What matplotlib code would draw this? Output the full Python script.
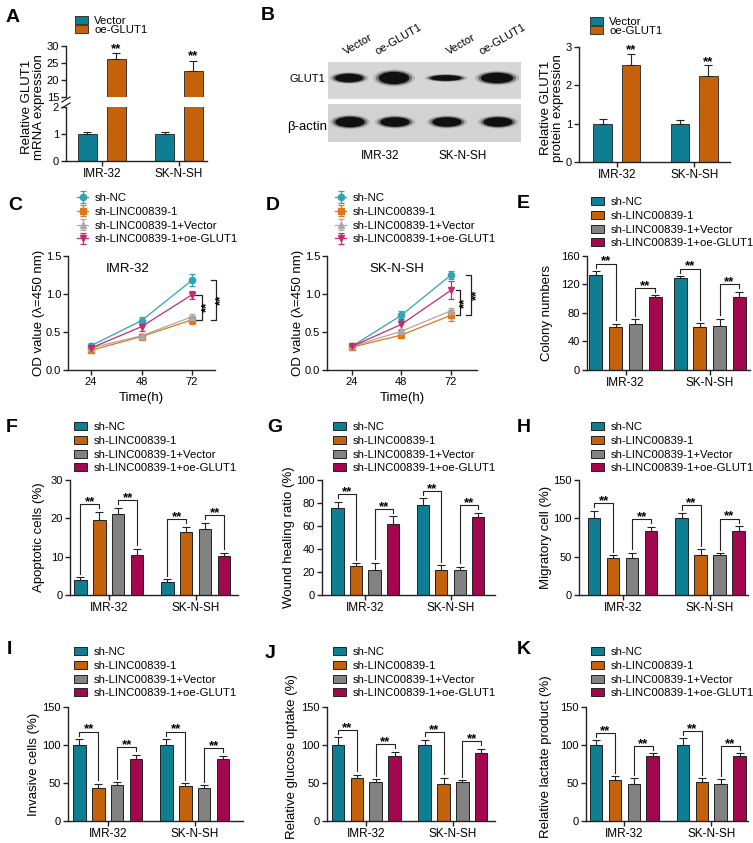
import matplotlib.pyplot as plt
from matplotlib.patches import Ellipse, Rectangle
from matplotlib.lines import Line2D
import numpy as np

plt.rcParams['font.family'] = ['Liberation Sans', 'DejaVu Sans']

W, H = 753, 843

TEAL = '#0f7d92'
ORANGE = '#c4610b'
GRAY = '#828282'
MAGENTA = '#a3084f'
BAR_COLORS = [TEAL, ORANGE, GRAY, MAGENTA]
LINE_COLORS = ['#2ea4b6', '#e0771d', '#a9a9a9', '#c32d6c']
INK = '#222222'

groups = ['IMR-32', 'SK-N-SH']
labels4 = ['sh-NC', 'sh-LINC00839-1', 'sh-LINC00839-1+Vector', 'sh-LINC00839-1+oe-GLUT1']
labels2 = ['Vector', 'oe-GLUT1']

# A: GLUT1 mRNA (IMR-32, SK-N-SH)
a_vector = [1.0, 1.0]
a_vector_err = [0.08, 0.07]
a_oe = [26.3, 22.6]
a_oe_err = [1.5, 3.1]

# B: GLUT1 protein
b_vector = [1.0, 1.0]
b_vector_err = [0.13, 0.10]
b_oe = [2.53, 2.25]
b_oe_err = [0.30, 0.28]

# C / D: CCK-8 OD values at 24, 48, 72 h
times = [24, 48, 72]
c_mean = [[0.32, 0.65, 1.18], [0.26, 0.44, 0.66], [0.29, 0.45, 0.70], [0.29, 0.57, 0.99]]
c_err = [[0.04, 0.05, 0.08], [0.02, 0.03, 0.05], [0.02, 0.03, 0.04], [0.03, 0.06, 0.05]]
d_mean = [[0.31, 0.72, 1.25], [0.30, 0.46, 0.72], [0.31, 0.51, 0.78], [0.31, 0.60, 1.05]]
d_err = [[0.02, 0.06, 0.05], [0.02, 0.04, 0.07], [0.02, 0.03, 0.04], [0.02, 0.07, 0.12]]

# E-K: rows = cell line, columns = groups
e_mean = [[134, 61, 65, 102], [129, 61, 62, 102]]
e_err = [[5, 4, 6, 3], [3, 5, 10, 8]]
f_mean = [[4.0, 19.6, 21.2, 10.5], [3.5, 16.4, 17.3, 10.1]]
f_err = [[0.6, 2.1, 1.6, 1.6], [0.6, 1.4, 1.6, 0.9]]
g_mean = [[76, 25, 22, 62], [78, 21.5, 22, 68]]
g_err = [[5, 2.5, 6, 6.5], [6, 4.5, 2.5, 3.5]]
h_mean = [[100, 48, 48, 83], [100, 52, 52, 84]]
h_err = [[10, 4, 7, 6], [7, 8, 2.5, 6]]
i_mean = [[100, 44, 47, 81], [100, 46, 44, 82]]
i_err = [[8, 5, 4, 6], [8, 4, 3, 4]]
j_mean = [[100, 57, 51, 86], [100, 49, 51, 89]]
j_err = [[10, 4, 4, 5], [7, 8, 3, 6]]
k_mean = [[100, 54, 49, 86], [100, 51, 49, 86]]
k_err = [[6, 5, 7, 3], [9, 5, 6, 3]]

# western blot band look (lanes: Vector, oe-GLUT1, Vector, oe-GLUT1)
glut1_band_h = [9, 13, 6, 11]
glut1_band_w = [30, 32, 33, 34]
actin_band_h = [11, 10, 10, 10]

fig = plt.figure(figsize=(W / 100, H / 100), dpi=100)
fig.patch.set_facecolor('white')


def box(l, t, r, b):
    return [l / W, 1 - b / H, (r - l) / W, (b - t) / H]


def style(ax):
    for s in ['top', 'right']:
        ax.spines[s].set_visible(False)
    for s in ['left', 'bottom']:
        ax.spines[s].set_linewidth(1.0)
        ax.spines[s].set_color(INK)
    ax.tick_params(labelsize=8, length=3.5, width=1.0, color=INK, pad=1.5)


def ylab(ax, text, x, y, size=9.5):
    ax.set_ylabel(text, fontsize=size, va='center', ha='center')
    ax.yaxis.set_label_coords(x / W, 1 - y / H, transform=fig.transFigure)


def legend(ax, handles, x, y, spacing=0.33, hl=1.15):
    ax.legend(handles=handles, loc='upper left', bbox_to_anchor=(x / W, 1 - y / H),
              bbox_transform=fig.transFigure, frameon=False, fontsize=8.2,
              handlelength=hl, handleheight=0.7, handletextpad=0.55,
              labelspacing=spacing, borderpad=0, borderaxespad=0)


def letter(ch, x, y):
    fig.text(x / W, 1 - y / H, ch, fontsize=14, fontweight='bold', ha='left', va='center')


def stars(ax, x, y):
    ax.text(x, y, '**', ha='center', va='bottom', fontsize=9.5, fontweight='bold')


def bar4(px, mean, err, ymax, step, xlim, ylabel, ylx, leg, gap=4.6, yly=None):
    ax = fig.add_axes(box(*px))
    style(ax)
    mean = np.array(mean, float)
    err = np.array(err, float)
    for ci in range(4):
        xs = np.array([0, gap]) + ci
        ax.bar(xs, mean[:, ci], width=0.66, color=BAR_COLORS[ci], edgecolor=INK,
               linewidth=0.7, label=labels4[ci],
               yerr=[np.zeros(2), err[:, ci]], capsize=2.8,
               error_kw=dict(elinewidth=0.8, capthick=0.8, ecolor=INK))
    tops = mean + err
    for gi in range(2):
        for a, b in [(0, 1), (2, 3)]:
            x0, x1 = gi * gap + a, gi * gap + b
            yl = max(tops[gi, a], tops[gi, b]) + 0.065 * ymax
            ax.plot([x0, x0, x1, x1],
                    [tops[gi, a] + 0.03 * ymax, yl, yl, tops[gi, b] + 0.03 * ymax],
                    color=INK, lw=0.8)
            stars(ax, (x0 + x1) / 2, yl - 0.035 * ymax)
    ax.set_ylim(0, ymax)
    ax.set_yticks(np.arange(0, ymax + step / 2, step))
    ax.set_xlim(*xlim)
    ax.set_xticks([1.5, gap + 1.5])
    ax.set_xticklabels(groups, fontsize=8.5)
    ylab(ax, ylabel, ylx, yly if yly else (px[1] + px[3]) / 2)
    h, _ = ax.get_legend_handles_labels()
    legend(ax, h, *leg)
    return ax


def bar2(ax, vec, vec_err, oe, oe_err, gap):
    xs = np.array([0, gap])
    ax.bar(xs, vec, width=0.66, color=TEAL, edgecolor=INK, linewidth=0.6, label=labels2[0],
           yerr=[np.zeros(2), vec_err], capsize=2.8,
           error_kw=dict(elinewidth=0.8, capthick=0.8, ecolor=INK))
    ax.bar(xs + 1, oe, width=0.66, color=ORANGE, edgecolor=INK, linewidth=0.6, label=labels2[1],
           yerr=[np.zeros(2), oe_err], capsize=2.8,
           error_kw=dict(elinewidth=0.8, capthick=0.8, ecolor=INK))


# ---------------- A ----------------
a_gap = 2.67
a_xlim = (-0.74, 4.14)
axA_top = fig.add_axes(box(66, 46, 207, 97))
axA_bot = fig.add_axes(box(66, 107, 207, 161))
for ax in (axA_top, axA_bot):
    style(ax)
    bar2(ax, a_vector, a_vector_err, a_oe, a_oe_err, a_gap)
    ax.set_xlim(*a_xlim)
axA_top.set_ylim(15, 30)
axA_top.set_yticks([15, 20, 25, 30])
axA_top.spines['bottom'].set_visible(False)
axA_top.set_xticks([])
axA_bot.set_ylim(0, 2)
axA_bot.set_yticks([0, 1, 2])
axA_bot.set_xticks([0.5, a_gap + 0.5])
axA_bot.set_xticklabels(groups, fontsize=8.5)
for xi, (m, e) in enumerate(zip(a_oe, a_oe_err)):
    stars(axA_top, xi * a_gap + 1, m + e - 0.6)
for yb in (100, 106):
    fig.add_artist(Line2D([62 / W, 70 / W], [1 - (yb + 2) / H, 1 - (yb - 3) / H],
                          color=INK, lw=0.9))
h, _ = axA_bot.get_legend_handles_labels()
legend(axA_bot, h, 75, 16, spacing=-0.1)
fig.text(33 / W, 1 - 107 / H, 'Relative GLUT1\nmRNA expression', rotation=90,
         ha='center', va='center', fontsize=9.5, linespacing=1.1)
letter('A', 6, 17)

# ---------------- B blot ----------------
axBlot = fig.add_axes(box(328, 62, 521, 142))
axBlot.set_xlim(328, 521)
axBlot.set_ylim(142, 62)
axBlot.axis('off')
axBlot.add_patch(Rectangle((328, 62), 193, 37, facecolor='#d6d6d6', edgecolor='none'))
axBlot.add_patch(Rectangle((328, 104), 193, 38, facecolor='#d2d2d2', edgecolor='none'))
lane_x = [349, 394, 446, 497]
for li, cx in enumerate(lane_x):
    for scale, col, alpha in [(1.3, '#7a7a7a', 0.35), (1.12, '#444444', 0.6), (0.95, '#101010', 1.0)]:
        axBlot.add_patch(Ellipse((cx, 78), glut1_band_w[li] * scale, glut1_band_h[li] * scale,
                                 facecolor=col, edgecolor='none', alpha=alpha))
        axBlot.add_patch(Ellipse((cx + 1, 122), 31 * scale, actin_band_h[li] * scale,
                                 facecolor=col, edgecolor='none', alpha=alpha))
for txt, x0 in zip(['Vector', 'oe-GLUT1', 'Vector', 'oe-GLUT1'], [347, 378, 450, 483]):
    fig.text(x0 / W, 1 - 57 / H, txt, rotation=30, rotation_mode='anchor',
             ha='left', va='bottom', fontsize=8)
fig.text(325 / W, 1 - 79 / H, 'GLUT1', ha='right', va='center', fontsize=8)
fig.text(327 / W, 1 - 127 / H, 'β-actin', ha='right', va='center', fontsize=9.5)
fig.text(380 / W, 1 - 156 / H, 'IMR-32', ha='center', va='center', fontsize=8.5)
fig.text(463 / W, 1 - 156 / H, 'SK-N-SH', ha='center', va='center', fontsize=8.5)
letter('B', 261, 15)

# ---------------- B bars ----------------
b_gap = 2.75
axB = fig.add_axes(box(579, 47, 730, 162))
style(axB)
bar2(axB, b_vector, b_vector_err, b_oe, b_oe_err, b_gap)
axB.set_xlim(-0.84, 4.52)
axB.set_ylim(0, 3)
axB.set_yticks([0, 1, 2, 3])
axB.set_xticks([0.5, b_gap + 0.5])
axB.set_xticklabels(groups, fontsize=8.5)
for xi, (m, e) in enumerate(zip(b_oe, b_oe_err)):
    stars(axB, xi * b_gap + 1, m + e - 0.08)
h, _ = axB.get_legend_handles_labels()
legend(axB, h, 590, 17, spacing=-0.1)
fig.text(552 / W, 1 - 108 / H, 'Relative GLUT1\nprotein expression', rotation=90,
         ha='center', va='center', fontsize=9.5, linespacing=1.1)


# ---------------- C / D ----------------
def line_panel(px, xlim, mean, err, title, tx, brk, leg):
    ax = fig.add_axes(box(*px))
    style(ax)
    markers = ['o', 's', '^', 'v']
    hs = []
    for si in range(4):
        hdl = ax.errorbar(times, mean[si], yerr=err[si], color=LINE_COLORS[si],
                          marker=markers[si], markersize=4.5, lw=0.9, capsize=2.4,
                          elinewidth=0.9, capthick=0.9, label=labels4[si])
        hs.append(hdl)
    ax.set_xlim(*xlim)
    ax.set_ylim(0, 1.5)
    ax.set_yticks([0, 0.5, 1.0, 1.5])
    ax.set_yticklabels(['0.0', '0.5', '1.0', '1.5'])
    ax.set_xticks(times)
    ax.set_xlabel('Time(h)', fontsize=9.5, labelpad=4)
    ax.text(tx, 1.33, title, ha='center', va='center', fontsize=9.5)
    # significance brackets at 72 h: oe vs sh, NC vs sh
    for (hi, x0, x1, xt) in brk:
        y1, y0 = mean[hi][2], mean[1][2]
        ax.plot([x0, x1, x1, x0], [y1, y1, y0, y0], color=INK, lw=0.9, clip_on=False)
        ax.text(xt, (y0 + y1) / 2, '**', rotation=90, ha='center', va='center',
                fontsize=9.5, fontweight='bold', clip_on=False)
    ylab(ax, 'OD value (λ=450 nm)', px[0] - 29, (px[1] + px[3]) / 2)
    legend(ax, hs, *leg, hl=1.0)
    return ax


line_panel((68, 256, 215, 370), (13, 83), c_mean, c_err, 'IMR-32', 41.5,
           [(3, 73.4, 76.8, 79.2), (0, 81.3, 83.4, 86.0)], (77, 193))
line_panel((327, 256, 477, 370), (12, 84.6), d_mean, d_err, 'SK-N-SH', 46,
           [(3, 74.3, 76.6, 79.0), (0, 79.2, 81.8, 84.6)], (335, 193))
letter('C', 8, 206)
letter('D', 266, 206)

# ---------------- E ----------------
bar4((587, 256, 750, 370), e_mean, e_err, 160, 40, (-0.45, 7.8), 'Colony numbers',
     547, (591, 197), gap=4.26)
letter('E', 517, 203)

# ---------------- F G H ----------------
bar4((70, 480, 238, 595), f_mean, f_err, 30, 10, (-0.55, 8.34), 'Apoptotic cells (%)',
     39, (74, 422))
bar4((322, 480, 495, 595), g_mean, g_err, 100, 20, (-0.84, 8.5), 'Wound healing ratio (%)',
     289, (333, 422))
bar4((579, 480, 748, 595), h_mean, h_err, 150, 50, (-0.8, 8.1), 'Migratory cell (%)',
     546, (591, 422))
letter('F', 6, 428)
letter('G', 267, 428)
letter('H', 517, 428)

# ---------------- I J K ----------------
bar4((68, 707, 243, 821), i_mean, i_err, 150, 50, (-0.6, 8.65), 'Invasive cells (%)',
     34, (74, 647))
bar4((327, 707, 495, 821), j_mean, j_err, 150, 50, (-0.58, 8.33), 'Relative glucose uptake (%)',
     292, (333, 647), yly=757)
bar4((586, 707, 748, 821), k_mean, k_err, 150, 50, (-0.53, 8.05), 'Relative lactate product (%)',
     546, (591, 647), yly=757)
letter('I', 7, 650)
letter('J', 265, 653)
letter('K', 517, 650)

fig.savefig('out.png', dpi=100)
